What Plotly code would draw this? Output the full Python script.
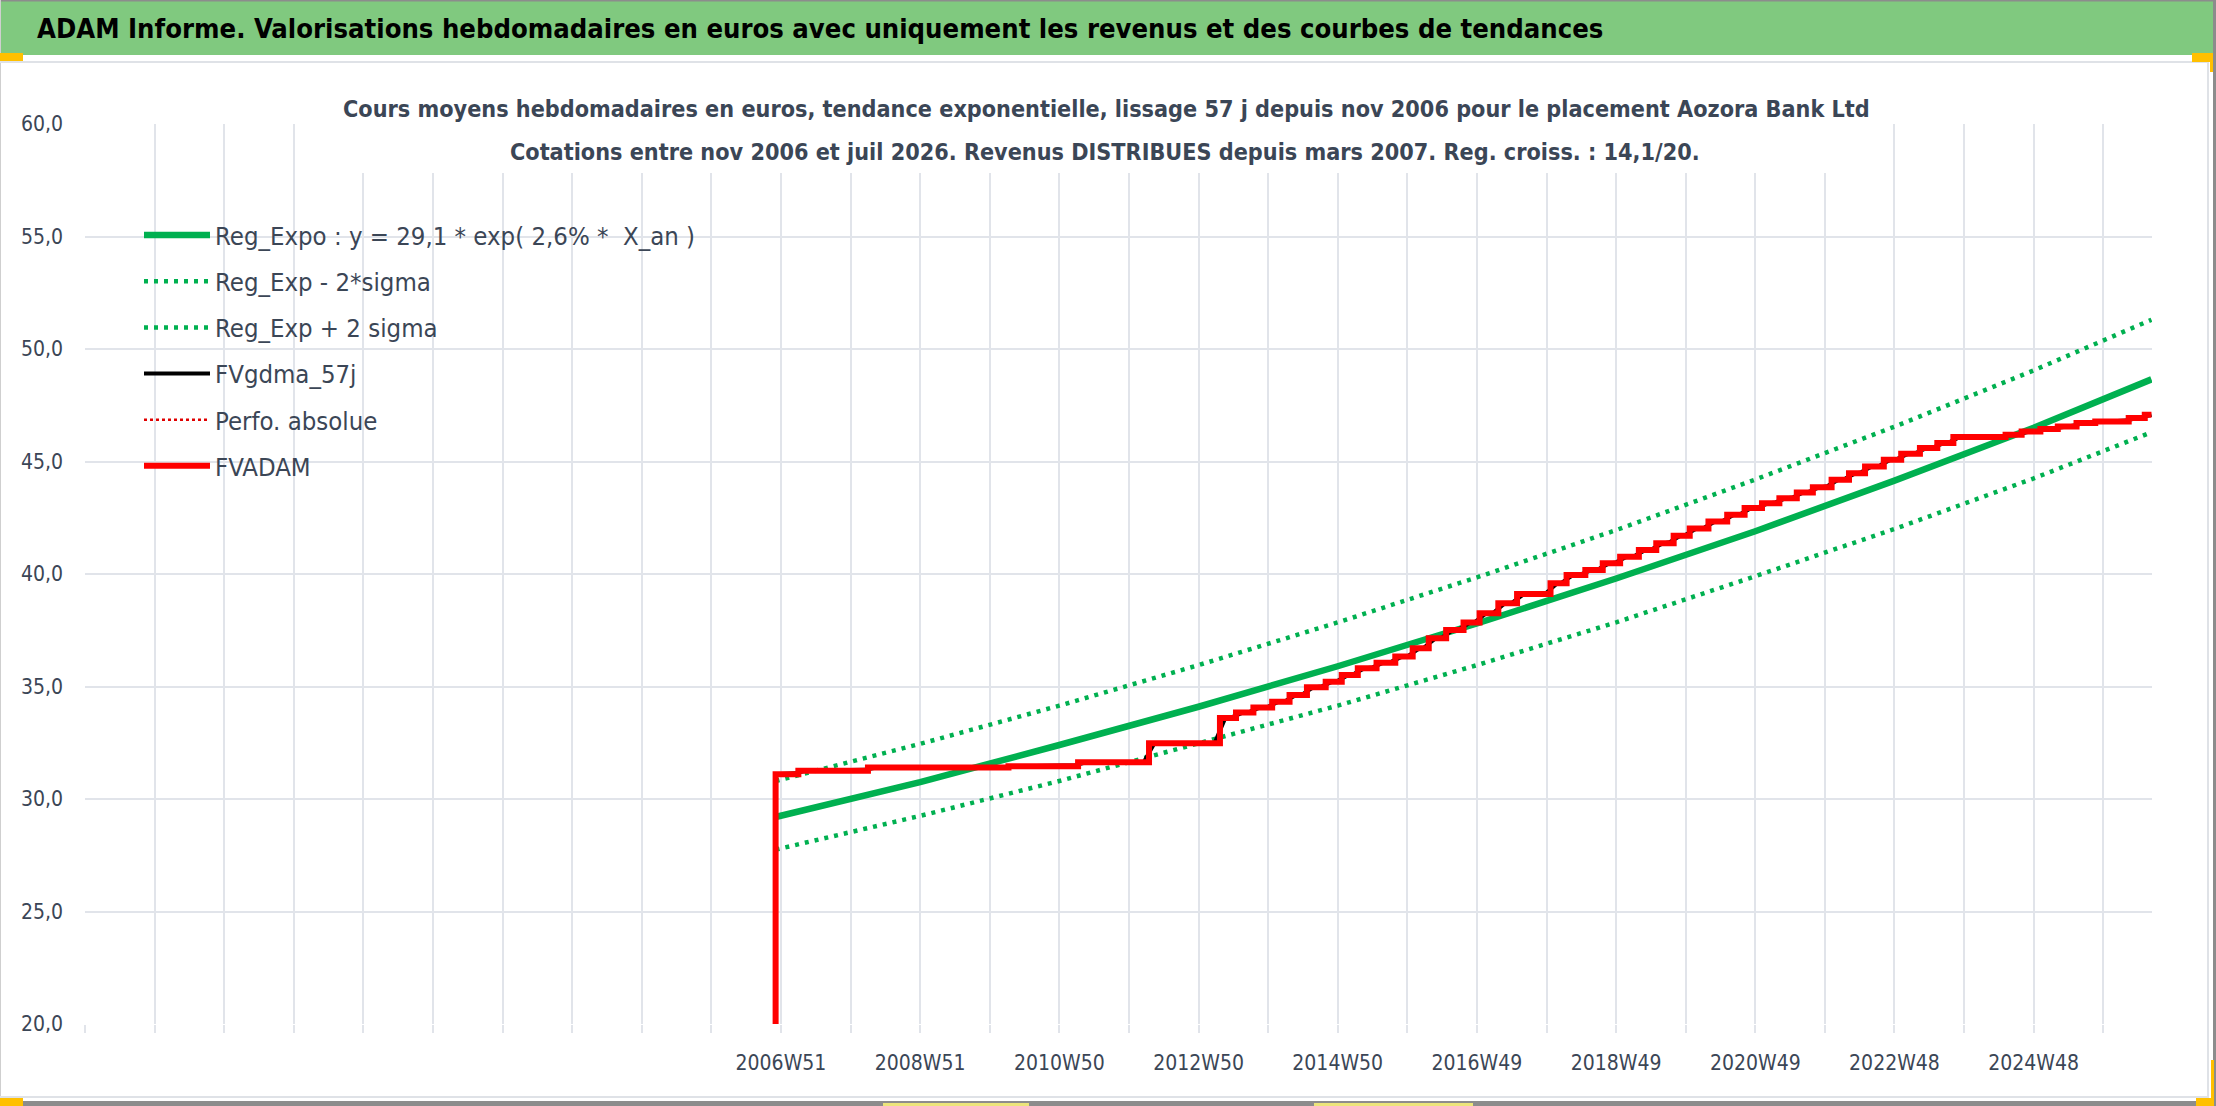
import numpy as np
import pandas as pd
import plotly.graph_objects as go

# ---------------- page geometry ----------------
W, H = 2216, 1106
L, R, T, B = 85, 64, 124, 82
PW, PH = W - L - R, H - T - B

def px(x):
    return (x - L) / PW

def py(y):
    return (H - B - y) / PH

# ---------------- data ----------------
x_end_week = 1544.4
grid_step_weeks = 52
x_tick_weeks = [520, 624, 728, 832, 936, 1040, 1144, 1248, 1352, 1456]
x_tick_labels = ["2006W51", "2008W51", "2010W50", "2012W50", "2014W50",
                 "2016W49", "2018W49", "2020W49", "2022W48", "2024W48"]
y_tick_values = [20, 25, 30, 35, 40, 45, 50, 55, 60]
y_tick_labels = ["20,0", "25,0", "30,0", "35,0", "40,0", "45,0", "50,0", "55,0", "60,0"]

reg_weeks = [516, 624, 728, 832, 936, 1040, 1144, 1248, 1352, 1456, 1544]
reg_expo = [29.2, 30.75, 32.4, 34.1, 35.9, 37.8, 39.8, 41.9, 44.15, 46.5, 48.65]
reg_minus = [27.75, 29.25, 30.8, 32.45, 34.15, 35.95, 37.85, 39.9, 42.0, 44.25, 46.3]
reg_plus = [30.8, 32.45, 34.15, 35.95, 37.85, 39.85, 41.95, 44.2, 46.55, 49.05, 51.3]

fvadam_weeks = [516, 516, 533, 585, 690, 742, 795, 848, 860, 873, 887, 900, 913,
                927, 939, 951, 965, 979, 992, 1004, 1017, 1030, 1042, 1056, 1070,
                1095, 1107, 1121, 1134, 1147, 1161, 1174, 1187, 1199, 1213, 1227,
                1240, 1253, 1266, 1279, 1291, 1305, 1318, 1330, 1344, 1357, 1371,
                1384, 1396, 1435, 1447, 1461, 1474, 1488, 1502, 1527, 1539, 1544]
fvadam_values = [20.0, 31.1, 31.26, 31.4, 31.46, 31.63, 32.48, 33.6, 33.84, 34.07,
                 34.32, 34.62, 34.97, 35.21, 35.51, 35.81, 36.06, 36.33, 36.7, 37.14,
                 37.51, 37.84, 38.26, 38.7, 39.11, 39.59, 39.96, 40.18, 40.48, 40.77,
                 41.07, 41.37, 41.7, 42.02, 42.33, 42.63, 42.93, 43.15, 43.37, 43.62,
                 43.86, 44.19, 44.48, 44.78, 45.08, 45.34, 45.6, 45.82, 46.09, 46.19,
                 46.33, 46.44, 46.56, 46.71, 46.78, 46.93, 47.08, 47.08]
smoothing_weeks = 8  # 57 jours

# 57-day moving average of the weekly FVADAM series
wk = np.arange(516, 1545)
steps = pd.Series(fvadam_values[1:], index=fvadam_weeks[1:])
steps = steps[~steps.index.duplicated(keep="last")]
weekly = steps.reindex(wk, method="ffill")
fvgdma = weekly.rolling(smoothing_weeks, center=True, min_periods=1).mean()

# ---------------- styles ----------------
GREEN = "#00b050"
RED = "#ff0000"
TXT = "#3b4656"
GRID = "#e1e4ea"
FONT = "DejaVu Sans Condensed, Open Sans, sans-serif"

fig = go.Figure()
fig.add_trace(go.Scatter(x=reg_weeks, y=reg_expo, mode="lines",
                         name="Reg_Expo : y = 29,1 * exp( 2,6% *  X_an )",
                         line=dict(color=GREEN, width=6.5), legendgroup="a"))
fig.add_trace(go.Scatter(x=reg_weeks, y=reg_minus, mode="lines",
                         name="Reg_Exp - 2*sigma",
                         line=dict(color=GREEN, width=4.5, dash="4px,6px"), legendgroup="b"))
fig.add_trace(go.Scatter(x=reg_weeks, y=reg_plus, mode="lines",
                         name="Reg_Exp + 2 sigma",
                         line=dict(color=GREEN, width=4.5, dash="4px,6px"), legendgroup="c"))
fig.add_trace(go.Scatter(x=wk, y=fvgdma.values, mode="lines", name="FVgdma_57j",
                         line=dict(color="#000000", width=4), legendgroup="d"))
fig.add_trace(go.Scatter(x=fvadam_weeks, y=fvadam_values, mode="lines", name="Perfo. absolue",
                         line=dict(color="#e00000", width=2.5, dash="3px,3px", shape="hv"),
                         legendgroup="e"))
fig.add_trace(go.Scatter(x=fvadam_weeks, y=fvadam_values, mode="lines", name="FVADAM",
                         line=dict(color=RED, width=6, shape="hv"), legendgroup="f"))

grid_vals = list(range(0, int(x_end_week), grid_step_weeks))
label_map = dict(zip(x_tick_weeks, x_tick_labels))
grid_text = [label_map.get(v, "") for v in grid_vals]

fig.update_xaxes(range=[0, x_end_week], tickmode="array", tickvals=grid_vals, ticktext=grid_text,
                 showgrid=True, gridcolor=GRID, gridwidth=2, zeroline=False, showline=False,
                 ticks="outside", ticklen=8, tickwidth=2, tickcolor=GRID,
                 tickfont=dict(family=FONT, size=21, color=TXT), ticklabelstandoff=12,
                 fixedrange=True)
fig.update_yaxes(range=[20, 60], tickmode="array", tickvals=y_tick_values, ticktext=y_tick_labels,
                 showgrid=True, gridcolor=GRID, gridwidth=2, zeroline=False, showline=False,
                 ticks="", tickfont=dict(family=FONT, size=21, color=TXT), ticklabelstandoff=21,
                 fixedrange=True)

shapes = []
def rect(x0, y0, x1, y1, color, layer="below"):
    shapes.append(dict(type="rect", xref="paper", yref="paper", x0=px(x0), x1=px(x1),
                       y0=py(y1), y1=py(y0), fillcolor=color, line=dict(width=0), layer=layer))

rect(0, 1, 2213, 55, "#80c97f")
rect(0, 0, 2216, 1.5, "#8c8c8c")
rect(2213, 0, 2216, 1106, "#8c8c8c")
rect(0, 1101, 2216, 1106, "#8c8c8c")
rect(0, 0, 1, 1106, "#cfcfcf")
rect(0, 61, 2209, 63, "#dfe2e7")
rect(2207, 61, 2209, 1097, "#dfe2e7")
rect(0, 1096, 2209, 1098, "#dfe2e7")
rect(0, 53, 23, 61, "#ffc000")
rect(2192, 53, 2213, 62, "#ffc000")
rect(2210, 53, 2213, 72, "#ffc000")
rect(0, 1098, 23, 1106, "#ffc000")
rect(2196, 1098, 2213, 1106, "#ffc000")
rect(2211, 1060, 2214, 1106, "#ffc000")
rect(883, 1103, 1029, 1106, "#ece47a")
rect(1314, 1103, 1473, 1106, "#ece47a")
# white box behind the chart title
rect(332, 64, 1877, 173, "#ffffff", layer="above")

annotations = [
    dict(text="ADAM Informe. Valorisations hebdomadaires en euros avec uniquement les revenus et des courbes de tendances",
         xref="paper", yref="paper", x=px(35), y=py(29), xanchor="left", yanchor="middle",
         showarrow=False, font=dict(family=FONT, size=27.2, color="#000000", weight="bold")),
    dict(text="Cours moyens hebdomadaires en euros, tendance exponentielle, lissage 57 j depuis nov 2006 pour le placement Aozora Bank Ltd",
         xref="paper", yref="paper", x=px(1106), y=py(108), xanchor="center", yanchor="middle",
         showarrow=False, font=dict(family=FONT, size=23.2, color=TXT, weight="bold")),
    dict(text="Cotations entre nov 2006 et juil 2026. Revenus DISTRIBUES depuis mars 2007. Reg. croiss. : 14,1/20.",
         xref="paper", yref="paper", x=px(1105), y=py(152), xanchor="center", yanchor="middle",
         showarrow=False, font=dict(family=FONT, size=23.2, color=TXT, weight="bold")),
]

fig.update_layout(
    width=W, height=H, margin=dict(l=L, r=R, t=T, b=B, pad=0),
    paper_bgcolor="#ffffff", plot_bgcolor="#ffffff",
    shapes=shapes, annotations=annotations,
    showlegend=True,
    legend=dict(x=px(139), y=py(212), xanchor="left", yanchor="top",
                bgcolor="rgba(0,0,0,0)", borderwidth=0, itemwidth=66,
                tracegroupgap=10, font=dict(family=FONT, size=25.5, color=TXT)),
)
fig.write_html("out.html", config={"displayModeBar": False},
               post_script="document.body.style.margin='0px';")
